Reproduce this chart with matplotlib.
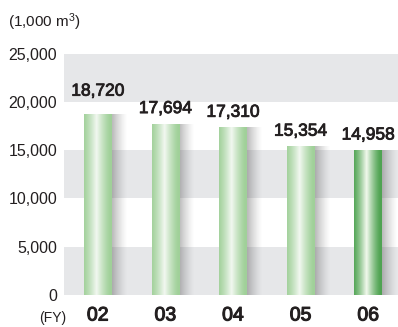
import numpy as np
import matplotlib
matplotlib.use("Agg")
import matplotlib.pyplot as plt
import matplotlib.patheffects as pe
from matplotlib.colors import to_rgb

years = ["02", "03", "04", "05", "06"]
values = [18720, 17694, 17310, 15354, 14958]
labels = ["18,720", "17,694", "17,310", "15,354", "14,958"]
yticks = [0, 5000, 10000, 15000, 20000, 25000]
ytick_labels = ["0", "5,000", "10,000", "15,000", "20,000", "25,000"]

plt.rcParams["font.family"] = ["Liberation Sans", "DejaVu Sans"]
plt.rcParams["mathtext.fontset"] = "custom"
plt.rcParams["mathtext.rm"] = "Liberation Sans"
plt.rcParams["mathtext.it"] = "Liberation Sans"
text_color = "#231f20"
medium = [pe.withStroke(linewidth=0.6, foreground=text_color)]

fig = plt.figure(figsize=(3.98, 3.27), dpi=100)
ax = fig.add_axes([64 / 398, 32 / 327, 334 / 398, 241.5 / 327])

x = np.arange(len(years))
width = 0.41
ax.set_xlim(-0.5, 4.44)
ax.set_ylim(0, 25000)

# alternating horizontal bands
for lo in (0, 10000, 20000):
    ax.axhspan(lo, lo + 5000, color="#e6e7e9", lw=0, zorder=0)

def bar_gradient(edge, center, n=64):
    t = np.linspace(0, 1, n)
    # lightest slightly left of middle
    prof = np.clip(1 - np.abs(t - 0.45) / 0.5, 0, 1) ** 1.3
    e, c = np.array(to_rgb(edge)), np.array(to_rgb(center))
    return (e[None, :] * (1 - prof[:, None]) + c[None, :] * prof[:, None])[None, :, :]

shadow_w = 0.23
for i, v in enumerate(values):
    # soft shadow to the right of each bar
    ts = np.linspace(0, 1, 64)
    sh = np.zeros((1, 64, 4))
    sh[0, :, :3] = 0.35
    sh[0, :, 3] = 0.42 * (1 - ts) ** 1.4
    ax.imshow(sh, extent=[x[i] + width / 2, x[i] + width / 2 + shadow_w, 0, v],
              aspect="auto", zorder=2, interpolation="bilinear")
    if i == len(values) - 1:
        grad = bar_gradient("#4fa352", "#f3f9ee")
    else:
        grad = bar_gradient("#a0d099", "#f2f8f1")
    ax.imshow(grad, extent=[x[i] - width / 2, x[i] + width / 2, 0, v],
              aspect="auto", zorder=3, interpolation="bilinear")
    off = 23 if i == 0 else 15.5
    ax.annotate(labels[i], (x[i], v), xytext=(0, off), textcoords="offset pixels",
                ha="center", va="center", fontsize=12.5, color=text_color,
                path_effects=medium, zorder=5)

ax.set_xlim(-0.5, 4.44)
ax.set_ylim(0, 25000)
ax.set_yticks(yticks)
ax.set_yticklabels(ytick_labels, fontsize=11.5, color=text_color)
ax.set_xticks(x)
ax.set_xticklabels(years, fontsize=14, color=text_color)
for t in ax.get_xticklabels():
    t.set_path_effects([pe.withStroke(linewidth=0.8, foreground=text_color)])
ax.tick_params(length=0, pad=5)
ax.tick_params(axis="x", pad=9)
for s in ax.spines.values():
    s.set_visible(False)

fig.text(8 / 398, 1 - 22 / 327, r"(1,000 m$^{3}$)", fontsize=11, color=text_color,
         ha="left", va="center")
fig.text(39 / 398, 1 - 318 / 327, "(FY)", fontsize=10, color=text_color,
         ha="left", va="center")

fig.savefig("out.png", dpi=100)
